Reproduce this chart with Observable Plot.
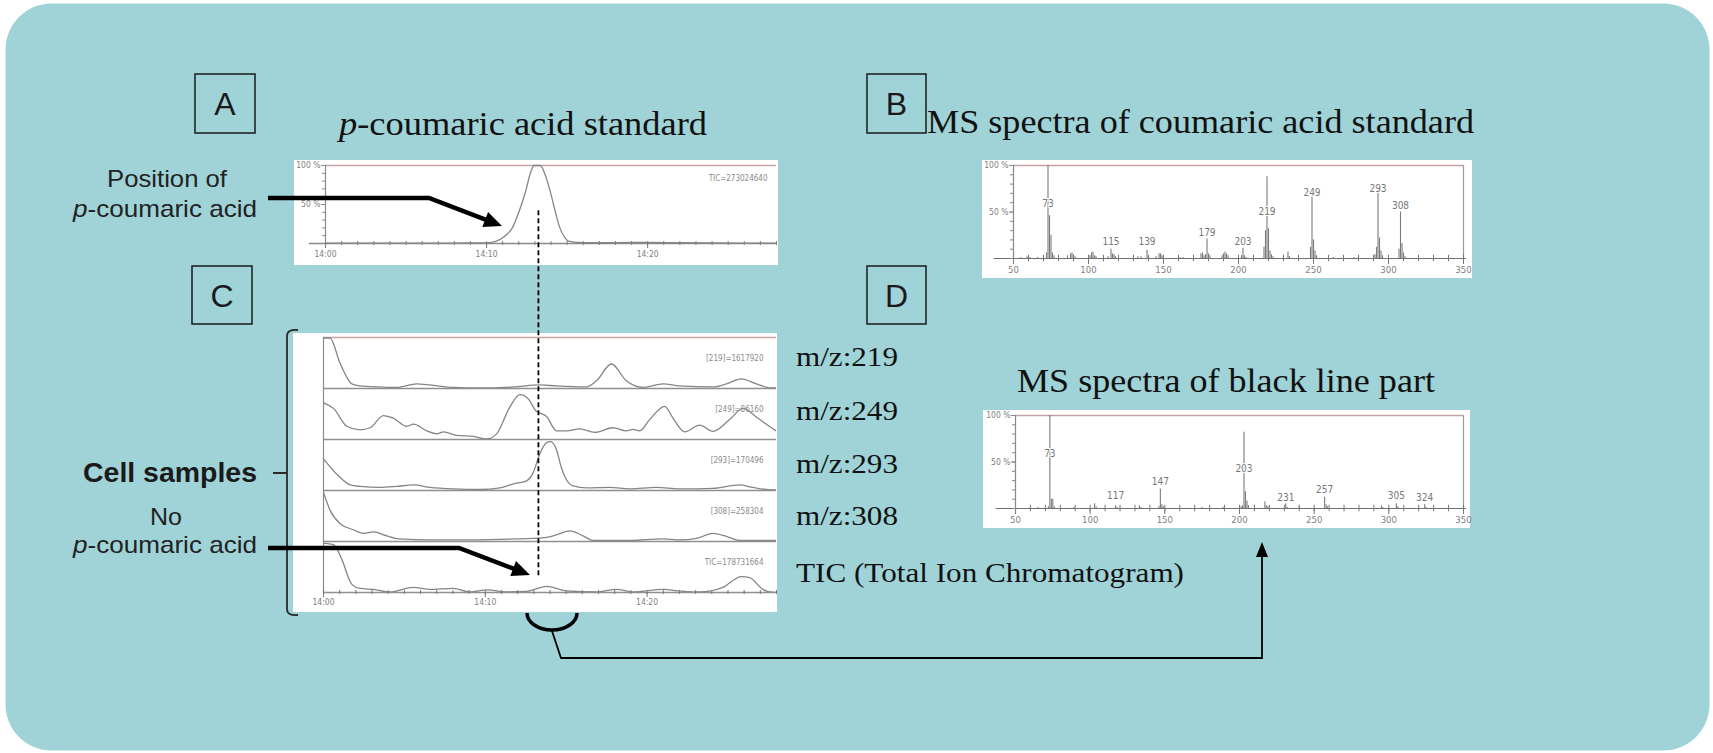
<!DOCTYPE html>
<html>
<head>
<meta charset="utf-8">
<script src="https://cdn.jsdelivr.net/npm/d3@7"></script>
<script src="https://cdn.jsdelivr.net/npm/@observablehq/plot@0.6"></script>
<style>
html,body{margin:0;padding:0;background:#fff;}
#root{position:relative;width:1713px;height:753px;overflow:hidden;background:#fff;}
</style>
</head>
<body>
<div id="root"></div>
<script>
// ---------------- DATA ----------------
// time axis (minutes after 14:00)
const timeTicks = [0, 10, 20];
const timeTickLabels = ["14:00", "14:10", "14:20"];
const dashedTime = 13.25; // position of p-coumaric acid peak (dashed line)

// A: p-coumaric acid standard TIC  [minute, %]
const stdTIC = [[0,0.5],[2,0.5],[4,0.5],[6,0.5],[8,0.6],[9.5,0.8],[10.2,1.2],[10.6,3],[11.1,9],[11.6,20],[12.0,40],[12.4,65],[12.75,92],[12.95,100],[13.35,100],[13.6,90],[14.0,63],[14.3,38],[14.55,20],[14.85,8],[15.1,3],[15.6,1.5],[16.5,1.2],[18,1.2],[20,1.5],[22,1],[24,0.7],[26,0.6],[28,0.5]];
const stdLabel = "TIC=273024640";

// C: cell samples, extracted ion chromatograms [minute, %]
const rowKeys = ["219", "249", "293", "308", "TIC"];
const rowLabels = ["[219]=1617920", "[249]=86160", "[293]=170496", "[308]=258304", "TIC=178731664"];
const rowNames = ["m/z:219", "m/z:249", "m/z:293", "m/z:308", "TIC (Total Ion Chromatogram)"];
const mz219 = [[0,99],[0.4,99],[1.03,49],[1.75,9],[2.26,5],[3.5,3],[4.53,2],[5.76,9],[6.58,7],[8.02,2],[9.67,1],[11.73,3],[13.37,7],[14.4,5],[16.26,3],[16.87,15],[17.8,48],[18.72,15],[19.75,2],[20.99,9],[22.0,5],[24.07,3],[24.9,9],[25.82,19],[26.75,9],[27.67,1],[28,1]];
const mz249 = [[0,72],[0.62,61],[1.44,26],[2.26,19],[2.88,23],[3.7,47],[4.32,42],[5.14,26],[5.56,30],[6.38,17],[7.0,11],[7.41,15],[8.23,8],[9.26,6],[10.08,1],[10.7,11],[11.52,64],[12.14,88],[12.65,80],[13.17,55],[13.37,52],[13.79,45],[14.4,17],[15.02,17],[15.84,21],[16.77,14],[17.9,23],[18.72,17],[19.14,20],[19.55,17],[20.16,39],[21.09,65],[21.6,42],[22.33,15],[23.25,28],[24.07,16],[25.1,39],[25.93,61],[26.75,44],[27.88,19],[28,17]];
const mz293 = [[0,62],[0.82,32],[1.65,11],[2.26,8],[3.5,6],[4.53,8],[5.56,11],[6.58,6],[8.02,3],[9.67,2],[10.9,5],[11.73,13],[12.55,19],[12.96,35],[13.37,72],[13.79,94],[14.05,96],[14.4,80],[14.7,45],[15.0,22],[15.43,9],[16.26,5],[17.7,6],[18.93,3],[20.58,6],[22.02,3],[24.07,4],[25.72,11],[26.54,6],[27.78,1],[28,1]];
const mz308 = [[0,96],[0.41,61],[1.03,35],[1.85,23],[2.47,16],[3.09,19],[3.91,11],[4.73,5],[6.58,3],[8.64,3],[11.73,5],[12.96,6],[13.79,8],[14.4,13],[15.23,21],[16.05,11],[16.67,2],[18.93,2],[20.99,5],[22.02,3],[23.05,6],[24.07,16],[24.9,10],[25.72,2],[27.78,2],[28,2]];
const ticCell = [[0,97],[0.62,94],[1.13,65],[1.75,16],[2.26,8],[3.09,6],[4.12,1],[5.56,10],[6.58,6],[8.02,8],[9.05,1],[10.08,5],[11.32,1],[12.55,2],[13.79,12],[15.02,3],[16.87,1],[18.11,6],[19.14,1],[20.99,6],[22.02,3],[23.25,1],[24.69,10],[25.82,31],[26.34,29],[27.16,6],[27.57,1],[28,0]];
const rowSeries = [mz219, mz249, mz293, mz308, ticCell];

// B: MS spectrum of coumaric acid standard [m/z, %]
const msStd = [[55,1],[59,2],[61,1],[66,1],[72,6],[73,100],[74,46],[75,25],[76,6],[77,3],[86,3],[88,5],[89,6],[90,4],[91,2],[100,2],[101,3],[102,6],[103,7],[104,3],[105,2],[113,2],[115,10],[116,5],[117,4],[118,2],[130,1],[133,2],[135,2],[139,9],[140,2],[145,2],[147,5],[148,5],[149,3],[161,1],[163,1],[175,5],[176,6],[177,3],[178,4],[179,21],[180,5],[181,3],[189,3],[190,5],[191,7],[192,5],[193,3],[202,3],[203,11],[204,3],[205,1],[217,12],[218,30],[219,88],[220,32],[221,8],[222,4],[223,2],[233,7],[234,2],[248,12],[249,66],[250,20],[251,8],[252,3],[263,1],[277,1],[291,4],[292,12],[293,70],[294,22],[295,8],[296,3],[307,10],[308,50],[309,16],[310,6],[311,2]];
const msStdLabels = [[73,59],[115,18],[139,18],[179,28],[203,18],[219,50],[249,71],[293,75],[308,57]];

// D: MS spectrum of black line part [m/z, %]
const msCell = [[60,1],[65,1],[72,2],[73,100],[74,10],[75,10],[76,2],[89,1],[103,5],[104,2],[117,3],[118,1],[133,3],[134,1],[146,2],[147,21],[148,4],[149,2],[175,1],[189,1],[201,2],[202,3],[203,82],[204,18],[205,8],[206,3],[217,7],[218,3],[219,2],[231,5],[232,1],[240,2],[257,12],[258,4],[259,2],[295,3],[296,1],[305,5],[306,2],[324,4],[325,1]];
const msCellLabels = [[73,59],[117,14],[147,29],[203,43],[231,12],[257,20],[305,14],[324,11]];

const mzTicks = [50, 100, 150, 200, 250, 300, 350];
const pctLabels = [50, 100];

// ---------------- LAYOUT ----------------
const W = 1713, H = 753;
const boxA = {left: 294, top: 160, width: 484, height: 105};
const boxC = {left: 293, top: 333, width: 484, height: 279};
const boxB = {left: 982, top: 160, width: 490, height: 118};
const boxD = {left: 983, top: 410, width: 487, height: 118};

const root = d3.select("#root");
const SANS = "'Liberation Sans Narrow','DejaVu Sans Condensed','Liberation Sans',Arial,sans-serif";
const chartStyle = {background: "#fff", fontFamily: SANS, fontSize: "8.5px", color: "#808080", overflow: "visible"};
const traceColor = "#858585";
const topColor = "#c4a3a3";

function place(el, box, z) {
  el.style.position = "absolute";
  el.style.left = box.left + "px";
  el.style.top = box.top + "px";
  el.style.maxWidth = "none";
  el.style.zIndex = z;
  root.node().appendChild(el);
}

// background
const bg = root.append("svg").attr("width", W).attr("height", H)
  .style("position", "absolute").style("left", 0).style("top", 0).style("z-index", 0);
bg.append("rect").attr("x", 5.5).attr("y", 3.5).attr("width", 1704).attr("height", 747)
  .attr("rx", 46).attr("fill", "#9fd3d7");

// ---------------- CHART A ----------------
const stdData = stdTIC.map(([t, v]) => ({t, v}));
const minutes = d3.range(0, 29, 1);
const plotA = Plot.plot({
  width: boxA.width, height: boxA.height,
  marginLeft: 31, marginRight: 2, marginTop: 5, marginBottom: 22,
  x: {domain: [0, 28], axis: null, label: null},
  y: {domain: [0, 100], axis: null, label: null},
  style: chartStyle,
  marks: [
    Plot.ruleY([100], {stroke: topColor, strokeWidth: 1.5}),
    Plot.ruleY([0], {x1: -1, x2: 28, stroke: "#8a8a8a", strokeWidth: 1.4}),
    Plot.ruleX(minutes, {x: d => d, y1: -2.5, y2: 2.5, stroke: "#777"}),
    Plot.axisX(timeTicks, {label: null, tickSize: 5, tickPadding: 2, tickFormat: d => timeTickLabels[timeTicks.indexOf(d)], stroke: "#777"}),
    Plot.ruleX([0], {y1: -4, y2: 100, stroke: "#8a8a8a", strokeWidth: 1.2}),
    Plot.axisY(d3.range(0, 101, 10), {label: null, tickSize: 3, tickFormat: () => "", stroke: "#888"}),
    Plot.axisY(pctLabels, {label: null, tickSize: 4, tickPadding: 1, tickFormat: d => d + " %", stroke: "#888"}),
    Plot.line(stdData, {x: "t", y: "v", stroke: traceColor, strokeWidth: 1.3, curve: "monotone-x"}),
    Plot.text([stdLabel], {text: d => d, frameAnchor: "top-right", dx: -9, dy: 10, fontSize: 8, fill: "#8a8a8a"})
  ]
});
place(plotA, boxA, 1);

// ---------------- CHART C ----------------
const cData = rowKeys.flatMap((r, i) => rowSeries[i].map(([t, v]) => ({row: r, t, v})));
const rowTable = rowKeys.map((r, i) => ({row: r, label: rowLabels[i]}));
const plotC = Plot.plot({
  width: boxC.width, height: boxC.height,
  marginLeft: 30, marginRight: 1, marginTop: 2, marginBottom: 18,
  x: {domain: [0, 28], axis: null, label: null},
  y: {domain: [0, 100], axis: null, label: null},
  fy: {domain: rowKeys, padding: 0, axis: null, label: null},
  style: chartStyle,
  marks: [
    Plot.ruleY([rowKeys[0]], {fy: d => d, y: 100, stroke: topColor, strokeWidth: 1.5}),
    Plot.ruleY(rowKeys, {fy: d => d, y: 0, stroke: "#8f8f8f", strokeWidth: 1.5}),
    Plot.ruleX(rowKeys, {fy: d => d, x: 0, stroke: "#8a8a8a", strokeWidth: 1.2}),
    Plot.ruleX(minutes, {x: d => d, fy: () => "TIC", y1: -4, y2: 4, stroke: "#777"}),
    Plot.axisX(timeTicks, {label: null, tickSize: 5, tickPadding: 1, tickFormat: d => timeTickLabels[timeTicks.indexOf(d)], stroke: "#777"}),
    Plot.line(cData, {x: "t", y: "v", fy: "row", stroke: traceColor, strokeWidth: 1.3, curve: "monotone-x", clip: true}),
    Plot.text(rowTable, {fy: "row", text: "label", frameAnchor: "top-right", dx: -13, dy: 18, fontSize: 8, fill: "#8a8a8a"})
  ]
});
place(plotC, boxC, 1);

// ---------------- SPECTRA B & D ----------------
function spectrum(peaks, labels, box, ml, mr) {
  const bars = peaks.map(([mz, v]) => ({mz, v}));
  const labs = labels.map(([mz, y]) => ({mz, y}));
  return Plot.plot({
    width: box.width, height: box.height,
    marginLeft: ml, marginRight: mr, marginTop: 5, marginBottom: 20,
    x: {domain: [50, 350], axis: null, label: null},
    y: {domain: [0, 100], axis: null, label: null},
    style: chartStyle,
    marks: [
      Plot.ruleY([100], {x1: 50, x2: 350, stroke: topColor, strokeWidth: 1.5}),
      Plot.ruleX([350], {y1: 0, y2: 100, stroke: "#9a9a9a", strokeWidth: 1.2}),
      Plot.ruleY([0], {x1: 37, x2: 352, stroke: "#707070", strokeWidth: 1.2}),
      Plot.ruleX(d3.range(50, 351, 10), {x: d => d, y1: -3.5, y2: 3.5, stroke: "#777"}),
      Plot.axisX(mzTicks, {label: null, tickSize: 6, tickPadding: 2, fontSize: 9.5, stroke: "#777"}),
      Plot.ruleX([50], {y1: -5, y2: 100, stroke: "#888", strokeWidth: 1.2}),
      Plot.axisY(d3.range(0, 101, 10), {label: null, tickSize: 3, tickFormat: () => "", stroke: "#888"}),
      Plot.axisY(pctLabels, {label: null, tickSize: 4, tickPadding: 1, tickFormat: d => d + " %", stroke: "#888"}),
      Plot.ruleX(bars, {x: "mz", y1: 0, y2: "v", stroke: "#7a7a7a", strokeWidth: 1.1}),
      Plot.text(labs, {x: "mz", y: "y", text: d => String(d.mz), fontSize: 10, fill: "#777", stroke: "#fff", strokeWidth: 2})
    ]
  });
}
place(spectrum(msStd, msStdLabels, boxB, 31, 9), boxB, 1);
place(spectrum(msCell, msCellLabels, boxD, 32, 7), boxD, 1);

// ---------------- OVERLAY ANNOTATIONS ----------------
const ov = root.append("svg").attr("width", W).attr("height", H)
  .style("position", "absolute").style("left", 0).style("top", 0).style("z-index", 3)
  .style("pointer-events", "none");

const SERIF = "'Liberation Serif','Times New Roman',serif";
const ARIAL = "'Liberation Sans',Arial,sans-serif";

function label(parts, x, y, size, len, family, opts = {}) {
  const t = ov.append("text").attr("x", x).attr("y", y)
    .attr("font-family", family).attr("font-size", size)
    .attr("fill", opts.fill || "#111")
    .attr("font-weight", opts.bold ? "bold" : "normal");
  if (len) t.attr("textLength", len).attr("lengthAdjust", "spacingAndGlyphs");
  if (opts.anchor) t.attr("text-anchor", opts.anchor);
  for (const p of parts) {
    const s = t.append("tspan").text(p.t);
    if (p.i) s.attr("font-style", "italic");
  }
  return t;
}

// panel letter boxes
const letterBoxes = [
  {k: "A", x: 195, y: 74, w: 60, h: 59},
  {k: "B", x: 867, y: 74, w: 59, h: 59},
  {k: "C", x: 192, y: 266, w: 60, h: 58},
  {k: "D", x: 867, y: 266, w: 59, h: 58}
];
for (const b of letterBoxes) {
  ov.append("rect").attr("x", b.x).attr("y", b.y).attr("width", b.w).attr("height", b.h)
    .attr("fill", "none").attr("stroke", "#1a1a1a").attr("stroke-width", 1.5);
  label([{t: b.k}], b.x + b.w / 2, b.y + b.h / 2 + 11.5, 32, null, ARIAL, {anchor: "middle", fill: "#1a1a1a"});
}

// titles
label([{t: "p", i: true}, {t: "-coumaric acid standard"}], 339, 135, 34, 368, SERIF);
label([{t: "MS spectra of coumaric acid standard"}], 927, 133, 34, 547, SERIF);
label([{t: "MS spectra of black line part"}], 1017, 392, 34, 418, SERIF);

// row names to the right of chart C
const rowBaselines = [366, 420, 473, 525, 582];
rowNames.forEach((n, i) => {
  label([{t: n}], 796, rowBaselines[i], 27, i < 4 ? 102 : 388, SERIF);
});

// left-hand sans labels
label([{t: "Position of"}], 107, 187, 24, 120, ARIAL, {fill: "#222"});
label([{t: "p", i: true}, {t: "-coumaric acid"}], 73, 217, 24, 184, ARIAL, {fill: "#222"});
label([{t: "Cell samples"}], 83, 482, 28, 174, ARIAL, {bold: true, fill: "#1a1a1a"});
label([{t: "No"}], 150, 525, 24, 32, ARIAL, {fill: "#222"});
label([{t: "p", i: true}, {t: "-coumaric acid"}], 73, 553, 24, 184, ARIAL, {fill: "#222"});

// bracket
ov.append("path")
  .attr("d", "M298,330 Q287,329 287,336 L287,609 Q287,616 298,615 M287,473 L273,473")
  .attr("fill", "none").attr("stroke", "#2a2a2a").attr("stroke-width", 1.8);

// arrow helper
function arrow(pts, width, head, headW) {
  const n = pts.length;
  const [tx, ty] = pts[n - 1], [px, py] = pts[n - 2];
  const dx = tx - px, dy = ty - py, L = Math.hypot(dx, dy), ux = dx / L, uy = dy / L;
  const bx = tx - ux * head, by = ty - uy * head;
  const line = pts.slice(0, -1).concat([[bx + ux, by + uy]]);
  ov.append("path").attr("d", d3.line()(line)).attr("fill", "none")
    .attr("stroke", "#000").attr("stroke-width", width).attr("stroke-linejoin", "miter");
  ov.append("path")
    .attr("d", `M${tx},${ty}L${bx - uy * headW},${by + ux * headW}L${bx + uy * headW},${by - ux * headW}Z`)
    .attr("fill", "#000");
}
arrow([[268, 198], [429, 198], [502, 226]], 4.5, 18, 8);
arrow([[268, 548], [459, 548], [530, 575]], 4.5, 18, 8);

// dashed line at the p-coumaric acid retention time
const xDash = boxA.left + plotA.scale("x").apply(dashedTime);
const yDashTop = boxA.top + plotA.scale("y").apply(42);
ov.append("line").attr("x1", xDash).attr("x2", xDash).attr("y1", yDashTop).attr("y2", 578)
  .attr("stroke", "#000").attr("stroke-width", 1.8).attr("stroke-dasharray", "5,3");

// cup below chart C and connector to D
ov.append("path").attr("d", "M527,613 A25,17 0 0 0 577,613")
  .attr("fill", "none").attr("stroke", "#000").attr("stroke-width", 3.5);
arrow([[552, 631], [561, 658], [1262, 658], [1262, 542]], 1.8, 15, 6);
</script>
</body>
</html>
